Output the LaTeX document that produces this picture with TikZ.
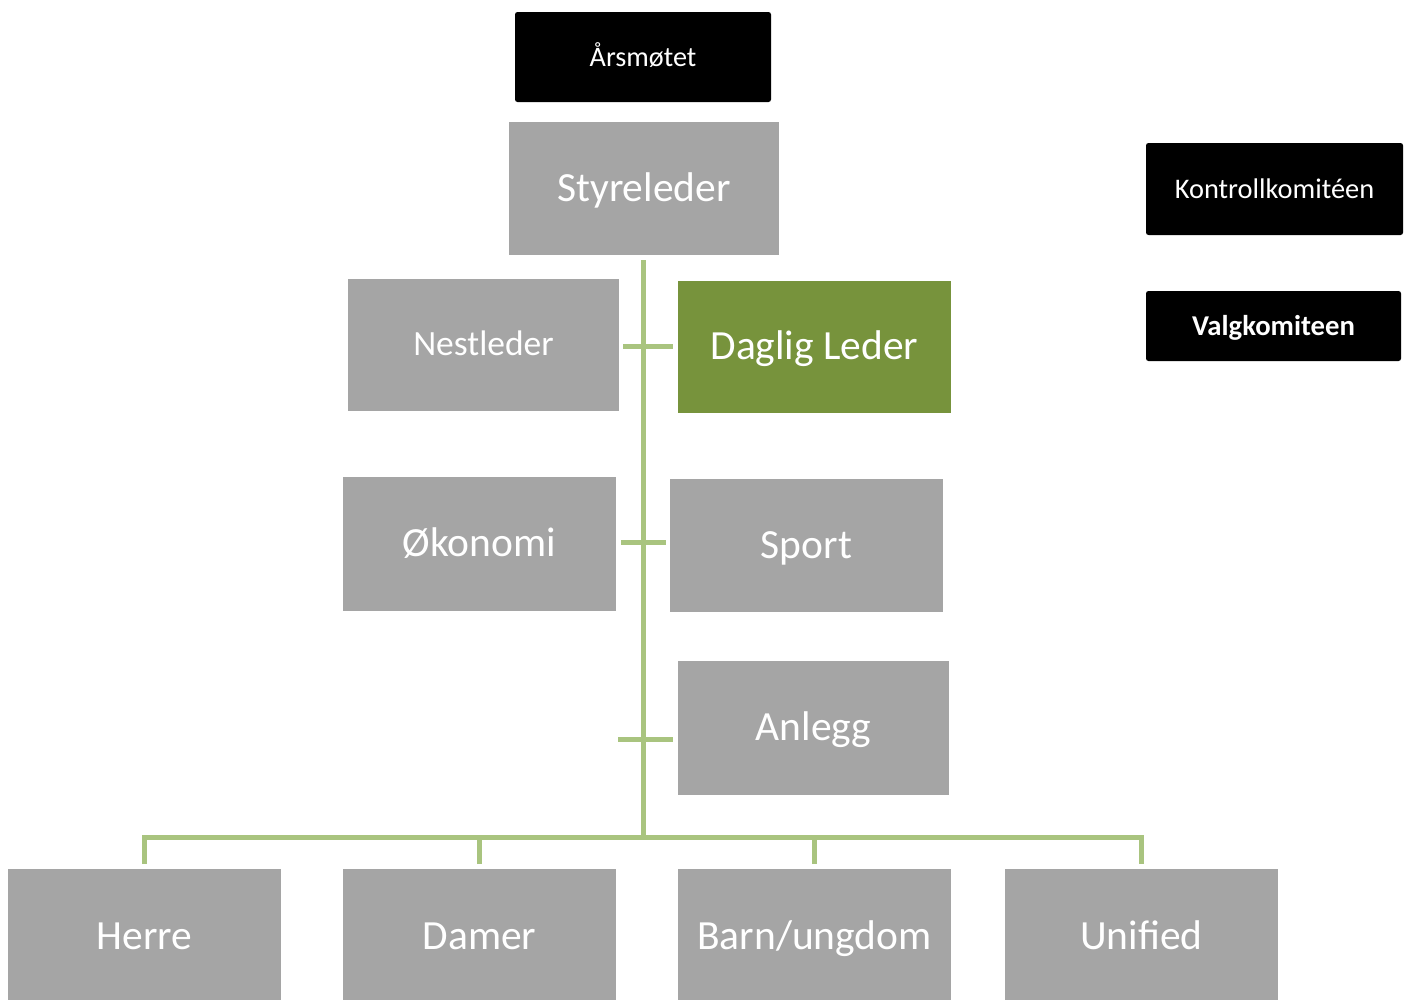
\documentclass[tikz,border=0pt]{standalone}
\usepackage{fontspec}
\setmainfont{Carlito}
\definecolor{boxgray}{HTML}{A5A5A5}
\definecolor{leadgreen}{HTML}{77933C}
\definecolor{linegreen}{HTML}{A9C47F}
\tikzset{
  basebox/.style={draw=none, inner sep=0pt, text=white},
  graybox/.style={basebox, fill=boxgray, font=\fontsize{41.5}{48}\selectfont, text height=31.5pt, text depth=6.5pt},
  blackbox/.style={basebox, fill=black, rounded corners=2.5pt, font=\fontsize{28.2}{34}\selectfont, text height=22pt, text depth=4pt},
  conn/.style={draw=linegreen, line width=5pt}
}
\begin{document}
\begin{tikzpicture}[x=1pt,y=-1pt]
\useasboundingbox (0,0) rectangle (1407,999);
% top
\node[blackbox, minimum width=256pt, minimum height=90pt] (ars) at (643,57) {Årsmøtet};
\node[graybox, minimum width=270pt, minimum height=133pt] (styr) at (644,188.5) {Styreleder};
\node[graybox, minimum width=271pt, minimum height=132pt, font=\fontsize{35.5}{42}\selectfont, text height=27pt, text depth=5.5pt] (nest) at (483.5,345) {Nestleder};
\node[graybox, fill=leadgreen, minimum width=273pt, minimum height=132pt] (dag) at (814.5,347) {Daglig Leder};
\node[graybox, minimum width=273pt, minimum height=134pt] (oko) at (479.5,544) {Økonomi};
\node[graybox, minimum width=273pt, minimum height=133pt] (sport) at (806.5,545.5) {Sport};
\node[graybox, minimum width=271pt, minimum height=134pt] (anl) at (813.5,728) {Anlegg};
% bottom row
\node[graybox, minimum width=273pt, minimum height=136pt] (herre) at (144.5,937) {Herre};
\node[graybox, minimum width=273pt, minimum height=136pt] (damer) at (479.5,937) {Damer};
\node[graybox, minimum width=273pt, minimum height=136pt] (barn) at (814.5,937) {Barn/ungdom};
\node[graybox, minimum width=273pt, minimum height=136pt] (unif) at (1141.5,937) {Unified};
% committees
\node[blackbox, minimum width=257pt, minimum height=92pt, font=\fontsize{28.4}{34}\selectfont] (kontr) at (1274.5,189) {Kontrollkomitéen};
\node[blackbox, minimum width=255pt, minimum height=70pt, font=\fontsize{28.7}{34}\selectfont\bfseries] (valg) at (1273.5,326) {Valgkomiteen};
% connectors
\coordinate (spinetop) at (643,260);
\coordinate (spinebot) at (643,837.5);
\coordinate (t1l) at (623,346.5);
\coordinate (t1r) at (673,346.5);
\coordinate (t2l) at (621,542.5);
\coordinate (t2r) at (666,542.5);
\coordinate (t3l) at (618,739.5);
\coordinate (t3r) at (673,739.5);
\coordinate (dh) at (144.5,864);
\coordinate (dd) at (479.5,864);
\coordinate (db) at (814.5,864);
\coordinate (du) at (1141.5,864);
\draw[conn] (spinetop) -- (spinebot);
\draw[conn] (t1l) -- (t1r);
\draw[conn] (t2l) -- (t2r);
\draw[conn] (t3l) -- (t3r);
\draw[conn] (dh) |- (spinebot) -| (du);
\draw[conn] (dd) -- (dd |- spinebot);
\draw[conn] (db) -- (db |- spinebot);
\end{tikzpicture}
\end{document}
